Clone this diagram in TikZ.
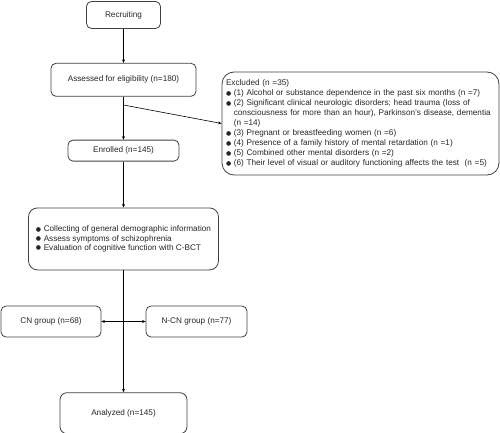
\documentclass[tikz,border=0pt]{standalone}
\usepackage{fontspec}
\setmainfont{Liberation Sans}
\newfontfamily\dotfont{DejaVu Sans}
\usetikzlibrary{positioning,arrows.meta}
\newcommand{\dotitem}{\makebox[7.8pt][l]{\raisebox{0.4pt}{\dotfont\fontsize{6}{6}\selectfont ●}}}
\newcommand{\dotskip}{\hspace*{7.8pt}}

\begin{document}
\begin{tikzpicture}[x=1pt,y=1pt]
		\tikzstyle{main}=[rectangle, rounded corners=5pt, draw=black!75, line width=0.8pt, text=black!85, font=\fontsize{8.2}{9.7}\selectfont, inner sep=2pt, align=center]
		\tikzstyle{connect}=[line width=0.6pt, -{Stealth[length=3.5pt,width=3pt]}]
		\useasboundingbox (0,0) rectangle (500,-433);
		\node[main, minimum width=74pt, minimum height=27pt]  (recruit) at (123.5,-15) {Recruiting};
		\node[main, minimum width=145pt, minimum height=33pt] (assess) [below=34pt of recruit] {Assessed for eligibility (n=180)};
		\node[main, minimum width=111pt, minimum height=21pt] (enrol)  [below=43pt of assess] {Enrolled (n=145)};
		\node[main, rounded corners=9pt, align=left, minimum width=190pt, minimum height=62pt,
		      font=\fontsize{8.2}{9.2}\selectfont] (collect) [below=46pt of enrol] {%
			\dotitem Collecting of general demographic information\\
			\dotitem Assess symptoms of schizophrenia\\
			\dotitem Evaluation of cognitive function with C-BCT};
		\node[main, rounded corners=7pt, minimum width=127pt, minimum height=41pt] (analyz) [below=122pt of collect] {Analyzed (n=145)};
		
		\node[main, minimum width=100pt, minimum height=31pt] (cn)  at (51,-321.5)    {CN group (n=68)};
		\node[main, minimum width=101pt, minimum height=31pt] (ncn) at (196.5,-321.5) {N-CN group (n=77)};
		
		\node[main, rounded corners=12pt, align=left, text width=269pt, inner xsep=4pt, minimum height=103pt,
		      font=\fontsize{8.2}{10}\selectfont] (excl) at (360.5,-123.5) {%
			Excluded (n =35)\\
			\dotitem (1) Alcohol or substance dependence in the past six months (n =7)\\
			\dotitem (2) Significant clinical neurologic disorders; head trauma (loss of\\
			\dotskip consciousness for more than an hour), Parkinson's disease, dementia\\
			\dotskip (n =14)\\
			\dotitem (3) Pregnant or breastfeeding women (n =6)\\
			\dotitem (4) Presence of a family history of mental retardation (n =1)\\
			\dotitem (5) Combined other mental disorders (n =2)\\
			\dotitem (6) Their level of visual or auditory functioning affects the test \ (n =5)};
		
		\coordinate (split) at (123.5,-105);
		\coordinate (fork)  at (123.5,-321.5);
		
		\path 
		(recruit) edge [connect] (assess)
		(assess)  edge [connect] (enrol)
		(split)   edge [connect] (excl.west)
		(enrol)   edge [connect] (collect)
		(collect) edge [connect] (analyz)
		(fork)    edge [connect] (cn)
		(fork)    edge [connect] (ncn)
		;
		
\end{tikzpicture}
\end{document}
